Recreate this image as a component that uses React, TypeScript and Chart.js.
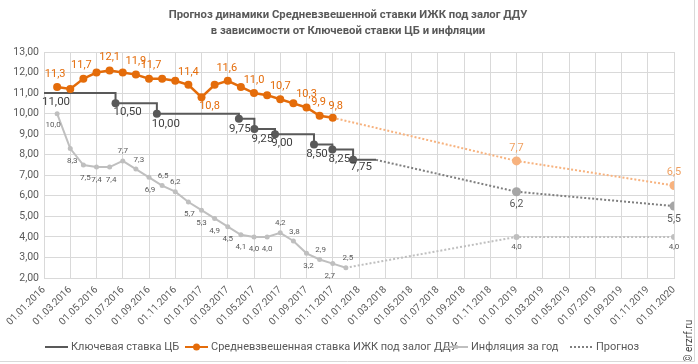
import React, { useEffect, useRef } from 'react';
import { Chart, registerables } from 'chart.js';

Chart.register(...registerables);

const TITLE_LINES = [
  'Прогноз динамики Средневзвешенной ставки ИЖК под залог ДДУ',
  'в зависимости от Ключевой ставки ЦБ и инфляции',
];

const X_TICK_LABELS = [
  '01.01.2016', '01.03.2016', '01.05.2016', '01.07.2016', '01.09.2016', '01.11.2016',
  '01.01.2017', '01.03.2017', '01.05.2017', '01.07.2017', '01.09.2017', '01.11.2017',
  '01.01.2018', '01.03.2018', '01.05.2018', '01.07.2018', '01.09.2018', '01.11.2018',
  '01.01.2019', '01.03.2019', '01.05.2019', '01.07.2019', '01.09.2019', '01.11.2019',
  '01.01.2020',
];

const LEGEND_LABELS = ['Ключевая ставка ЦБ', 'Средневзвешенная ставка ИЖК под залог ДДУ', 'Инфляция за год', 'Прогноз'];
const COPYRIGHT = '© erzrf.ru';

// x values are months since 01.01.2016
const keyRateMonths = [0, 5.45, 8.6, 14.85, 16.03, 17.6, 20.57, 21.97, 23.55, 25.3];
const keyRateValues = [11.0, 10.5, 10.0, 9.75, 9.25, 9.0, 8.5, 8.25, 7.75, 7.75];

const mortgageMonths = [1, 2, 3, 4, 5, 6, 7, 8, 9, 10, 11, 12, 13, 14, 15, 16, 17, 18, 19, 20, 21, 22];
const mortgageValues = [11.3, 11.2, 11.7, 12.0, 12.1, 12.0, 11.9, 11.7, 11.7, 11.6, 11.4, 10.8, 11.4, 11.6, 11.3, 11.0, 10.9, 10.7, 10.5, 10.3, 9.9, 9.8];

const inflationMonths = [1, 2, 3, 4, 5, 6, 7, 8, 9, 10, 11, 12, 13, 14, 15, 16, 17, 18, 19, 20, 21, 22, 23];
const inflationValues = [10.0, 8.3, 7.5, 7.4, 7.4, 7.7, 7.3, 6.9, 6.5, 6.2, 5.7, 5.3, 4.9, 4.5, 4.1, 4.0, 4.0, 4.2, 3.8, 3.2, 2.9, 2.7, 2.5];

const keyForecastMonths = [25.3, 36, 48];
const keyForecastValues = [7.75, 6.2, 5.5];
const mortgageForecastMonths = [22, 36, 48];
const mortgageForecastValues = [9.8, 7.7, 6.5];
const inflationForecastMonths = [23, 36, 48];
const inflationForecastValues = [2.5, 4.0, 4.0];

const FONT = 'Roboto, "Liberation Sans", sans-serif';
const TITLE_FONT = '"Liberation Sans Narrow", Roboto, sans-serif';
const C_KEY = '#595959';
const C_ORANGE = '#E46C0A';
const C_ORANGE_LIGHT = '#F7B27E';
const C_INFL = '#BFBFBF';
const C_FC_KEY = '#7F7F7F';
const C_GRID = '#D9D9D9';
const C_TEXT = '#595959';

const pts = (xs: number[], ys: number[]) => xs.map((x, i) => ({ x, y: ys[i] }));
const fmt = (v: number, d: number) => v.toFixed(d).replace('.', ',');

// label specs: dataset index, point index, decimals, dx, dy, color, font size
type LSpec = [number, number, number, number, number, string, number];
const ABOVE_O = -13;
const BELOW_O = 9;
const C_KL = '#404040';
const LABELS: LSpec[] = [
  // key rate (ds 0)
  [0, 0, 2, 12, 9, C_KL, 11.5],
  [0, 1, 2, 12, 9, C_KL, 11.5],
  [0, 2, 2, 9, 10, C_KL, 11.5],
  [0, 3, 2, 1, 10, C_KL, 11.5],
  [0, 4, 2, 8, 10, C_KL, 11.5],
  [0, 5, 2, 7, 9, C_KL, 11.5],
  [0, 6, 2, 3, 10, C_KL, 11.5],
  [0, 7, 2, 7, 10, C_KL, 11.5],
  [0, 8, 2, 8, 7, C_KL, 11.5],
  // mortgage (ds 1)
  [1, 0, 1, -2, ABOVE_O, C_ORANGE, 11],
  [1, 2, 1, -2, ABOVE_O, C_ORANGE, 11],
  [1, 4, 1, 0, ABOVE_O, C_ORANGE, 11],
  [1, 6, 1, 0, ABOVE_O, C_ORANGE, 11],
  [1, 7, 1, 2, ABOVE_O, C_ORANGE, 11],
  [1, 10, 1, 0, ABOVE_O, C_ORANGE, 11],
  [1, 11, 1, 8, BELOW_O, C_ORANGE, 11],
  [1, 13, 1, -1, ABOVE_O, C_ORANGE, 11],
  [1, 15, 1, 0, ABOVE_O, C_ORANGE, 11],
  [1, 17, 1, 0, ABOVE_O, C_ORANGE, 11],
  [1, 19, 1, 0, ABOVE_O, C_ORANGE, 11],
  [1, 20, 1, -1, ABOVE_O, C_ORANGE, 11],
  [1, 21, 1, 3, -11, C_ORANGE, 11],
  // inflation (ds 2)
  [2, 0, 1, -4, 11, C_TEXT, 8],
  [2, 1, 1, 2, 12.5, C_TEXT, 8],
  [2, 2, 1, 2, 12.5, C_TEXT, 8],
  [2, 3, 1, 0, 12.5, C_TEXT, 8],
  [2, 4, 1, 1.5, 12.5, C_TEXT, 8],
  [2, 5, 1, 0, -9.5, C_TEXT, 8],
  [2, 6, 1, 3, -9.5, C_TEXT, 8],
  [2, 7, 1, 1, 12.5, C_TEXT, 8],
  [2, 8, 1, 1, -9.5, C_TEXT, 8],
  [2, 9, 1, 0, -10, C_TEXT, 8],
  [2, 10, 1, 1, 12.5, C_TEXT, 8],
  [2, 11, 1, 0, 12.5, C_TEXT, 8],
  [2, 12, 1, 0, 12.5, C_TEXT, 8],
  [2, 13, 1, 0, 12.5, C_TEXT, 8],
  [2, 14, 1, 0, 12.5, C_TEXT, 8],
  [2, 15, 1, 0, 12.5, C_TEXT, 8],
  [2, 16, 1, 0, 12.5, C_TEXT, 8],
  [2, 17, 1, 0, -10, C_TEXT, 8],
  [2, 18, 1, 1, -9, C_TEXT, 8],
  [2, 19, 1, 2, 12.5, C_TEXT, 8],
  [2, 20, 1, 1, -9.5, C_TEXT, 8],
  [2, 21, 1, -3, 12.5, C_TEXT, 8],
  [2, 22, 1, 2, -9.5, C_TEXT, 8],
  // key forecast (ds 3)
  [3, 1, 1, 0, 13, C_TEXT, 10.5],
  [3, 2, 1, 0, 13, C_TEXT, 10.5],
  // mortgage forecast (ds 4)
  [4, 1, 1, 0, ABOVE_O, '#F0A060', 11],
  [4, 2, 1, 0, ABOVE_O, '#F0A060', 11],
  // inflation forecast (ds 5)
  [5, 1, 1, 0, 10, C_TEXT, 8],
  [5, 2, 1, 0, 10, C_TEXT, 8],
];

const decorPlugin = {
  id: 'decor',
  afterDatasetsDraw(chart: any) {
    const ctx = chart.ctx;
    ctx.save();
    ctx.textAlign = 'center';
    ctx.textBaseline = 'middle';
    for (const [ds, idx, dec, dx, dy, color, size] of LABELS) {
      const el = chart.getDatasetMeta(ds).data[idx];
      const v = (chart.data.datasets[ds].data[idx] as any).y;
      ctx.fillStyle = color;
      ctx.font = `${size}px ${FONT}`;
      ctx.fillText(fmt(v, dec), el.x + dx, el.y + dy);
    }
    ctx.restore();
  },
  afterDraw(chart: any) {
    const ctx = chart.ctx;
    ctx.save();
    // title, fitted to the reference line width
    ctx.fillStyle = C_TEXT;
    ctx.textAlign = 'center';
    ctx.textBaseline = 'middle';
    ctx.font = `bold 13px ${TITLE_FONT}`;
    const w = ctx.measureText(TITLE_LINES[0]).width;
    const size = Math.min(14, (13 * 359) / w);
    ctx.font = `bold ${size.toFixed(2)}px ${TITLE_FONT}`;
    ctx.fillText(TITLE_LINES[0], 348, 15);
    ctx.fillText(TITLE_LINES[1], 348, 31);

    // legend
    const ly = 347;
    const items = [
      { x: 45, kind: 'line', color: C_KEY },
      { x: 185, kind: 'dot', color: C_ORANGE },
      { x: 445, kind: 'small', color: C_INFL },
      { x: 570, kind: 'dotted', color: C_FC_KEY },
    ];
    ctx.textAlign = 'left';
    ctx.font = `11px ${FONT}`;
    items.forEach((it, i) => {
      ctx.strokeStyle = it.color;
      ctx.lineWidth = 2;
      ctx.setLineDash(it.kind === 'dotted' ? [2, 2] : []);
      ctx.beginPath();
      ctx.moveTo(it.x, ly);
      ctx.lineTo(it.x + 23, ly);
      ctx.stroke();
      ctx.setLineDash([]);
      if (it.kind === 'dot' || it.kind === 'small') {
        ctx.fillStyle = it.color;
        ctx.beginPath();
        ctx.arc(it.x + 11.5, ly, it.kind === 'dot' ? 3.5 : 2, 0, Math.PI * 2);
        ctx.fill();
      }
      ctx.fillStyle = C_TEXT;
      ctx.fillText(LEGEND_LABELS[i], it.x + 26, ly);
    });

    // copyright
    ctx.save();
    ctx.translate(689, 341);
    ctx.rotate(-Math.PI / 2);
    ctx.textAlign = 'center';
    ctx.fillStyle = '#404040';
    ctx.font = `10px ${FONT}`;
    ctx.fillText(COPYRIGHT, 0, 0);
    ctx.restore();

    // outer frame (right & bottom)
    ctx.strokeStyle = C_GRID;
    ctx.lineWidth = 1;
    ctx.beginPath();
    ctx.moveTo(694.5, 0);
    ctx.lineTo(694.5, 361.5);
    ctx.lineTo(0, 361.5);
    ctx.stroke();
    ctx.restore();
  },
};

export default function App() {
  const ref = useRef<HTMLCanvasElement>(null);
  useEffect(() => {
    if (!ref.current) return;
    const chart = new Chart(ref.current, {
      type: 'line',
      data: {
        datasets: [
          {
            label: LEGEND_LABELS[0],
            data: pts(keyRateMonths, keyRateValues),
            borderColor: C_KEY,
            backgroundColor: C_KEY,
            borderWidth: 2,
            stepped: 'before',
            pointBorderWidth: 0,
            pointRadius: keyRateMonths.map((_, i) => (i === 0 || i === keyRateMonths.length - 1 ? 0 : 4)),
            order: 2,
          },
          {
            label: LEGEND_LABELS[1],
            data: pts(mortgageMonths, mortgageValues),
            borderColor: C_ORANGE,
            backgroundColor: C_ORANGE,
            borderWidth: 2.5,
            pointBorderWidth: 0,
            pointRadius: 4,
            tension: 0,
            order: 1,
          },
          {
            label: LEGEND_LABELS[2],
            data: pts(inflationMonths, inflationValues),
            borderColor: C_INFL,
            backgroundColor: C_INFL,
            borderWidth: 2,
            pointBorderWidth: 0,
            pointRadius: 2.5,
            order: 3,
          },
          {
            label: 'fk',
            data: pts(keyForecastMonths, keyForecastValues),
            borderColor: C_FC_KEY,
            backgroundColor: '#A6A6A6',
            borderWidth: 2,
            borderDash: [2, 2],
            pointBorderWidth: 0,
            pointRadius: [0, 4.5, 4.5],
            order: 5,
          },
          {
            label: 'fm',
            data: pts(mortgageForecastMonths, mortgageForecastValues),
            borderColor: C_ORANGE_LIGHT,
            backgroundColor: C_ORANGE_LIGHT,
            borderWidth: 2,
            borderDash: [2, 2],
            pointBorderWidth: 0,
            pointRadius: [0, 4.5, 4.5],
            order: 4,
          },
          {
            label: 'fi',
            data: pts(inflationForecastMonths, inflationForecastValues),
            borderColor: C_INFL,
            backgroundColor: C_INFL,
            borderWidth: 2,
            borderDash: [2, 2],
            pointBorderWidth: 0,
            pointRadius: [0, 3, 3],
            order: 6,
          },
        ],
      },
      options: {
        responsive: false,
        animation: false,
        layout: { padding: { top: 52, right: 24, left: 0, bottom: 0 } },
        plugins: { legend: { display: false }, title: { display: false }, tooltip: { enabled: false } },
        scales: {
          x: {
            type: 'linear',
            min: 0,
            max: 48,
            grid: { color: C_GRID, drawTicks: false },
            border: { color: C_GRID },
            ticks: {
              stepSize: 2,
              autoSkip: false,
              minRotation: 45,
              maxRotation: 45,
              padding: 6,
              color: C_TEXT,
              font: { family: FONT, size: 10 },
              callback: (v: any) => X_TICK_LABELS[Math.round(Number(v) / 2)] ?? '',
            },
            afterFit: (s: any) => { s.height = 86; },
          },
          y: {
            min: 2,
            max: 13,
            grid: { color: C_GRID, drawTicks: false },
            border: { color: C_GRID },
            ticks: {
              stepSize: 1,
              padding: 5,
              color: C_TEXT,
              font: { family: FONT, size: 10.5 },
              callback: (v: any) => fmt(Number(v), 2),
            },
            afterFit: (s: any) => { s.width = 44; },
          },
        },
      },
      plugins: [decorPlugin],
    } as any);
    return () => chart.destroy();
  }, []);
  return (
    <div style={{ position: 'absolute', left: 0, top: 0, width: 698, height: 364, background: '#fff' }}>
      <canvas ref={ref} width={698} height={364} style={{ display: 'block' }} />
    </div>
  );
}
